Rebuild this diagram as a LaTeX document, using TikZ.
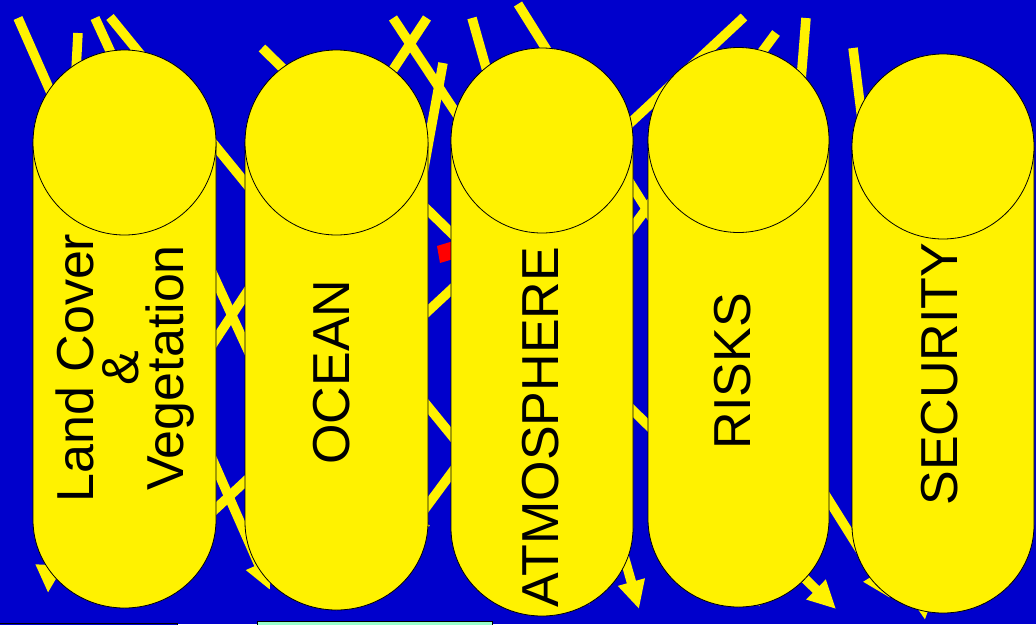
\documentclass[tikz,border=0pt]{standalone}
\usepackage{fontspec}
\setmainfont{Liberation Sans}
\usetikzlibrary{arrows.meta}
\definecolor{bgblue}{RGB}{0,0,204}
\definecolor{mint}{RGB}{153,255,204}

\begin{document}
\begin{tikzpicture}[x=1pt, y=-1pt,
    cyl/.style={draw=black, line width=0.8pt, fill=yellow},
    arr/.style={draw=yellow, line width=9.5pt, -{Triangle[length=28pt, width=26pt]}},
    lbl/.style={font=\fontsize{52}{45}\selectfont, align=center, inner sep=0pt, rotate=90}]
  \useasboundingbox (0,0) rectangle (1036,624);
  \clip (0,0) rectangle (1036,624);
  \fill[bgblue] (0,0) rectangle (1036,624);
  % arrows behind the pillars
  \foreach \sx/\sy/\ex/\ey in {18/18/270/590, 78/33/48/593, 95/18/320/507,
      110/17/590/605, 262/48/836/609, 393/18/560/270, 427/18/130/470,
      443/63/400/300, 472/18/639/609, 518/4/890/598, 853/48/925/620,
      744/17/150/570, 776/33/402/540, 806/18/759/607}
    \draw[arr] (\sx,\sy) -- (\ex,\ey);
  \fill[red] (437,246) -- (470,236) -- (470,254) -- (440,263) -- cycle;
  % pillars
  \foreach \xl/\xr/\ct/\yb in {33/216/142.5/608, 245/428/142.5/610,
      451/633/140.5/616, 648/829/140/607, 852/1034/146.5/613}{
    \pgfmathsetmacro{\rx}{(\xr-\xl)/2}
    \pgfmathsetmacro{\cx}{(\xl+\xr)/2}
    \pgfmathsetmacro{\ys}{\yb-88}
    \draw[cyl] (\xl,\ct) -- (\xl,\ys)
      arc[start angle=180, end angle=0, x radius=\rx, y radius=88]
      -- (\xr,\ct) -- cycle;
    \draw[cyl] (\cx,\ct) ellipse[x radius=\rx, y radius=92.5];
  }
  \node[lbl] (land) at (125,368) {Land Cover\\\&\\Vegetation};
  \node[lbl] (ocean) at (332,372) {OCEAN};
  \node[lbl] (atmo) at (541,427) {ATMOSPHERE};
  \node[lbl] (risks) at (733,371) {RISKS};
  \node[lbl] (security) at (940,374) {SECURITY};
  % boxes cut by the lower edge
  \draw[fill=bgblue] (-5,623) rectangle (177,640);
  \draw[fill=mint] (257,621) rectangle (492,640);
\end{tikzpicture}
\end{document}
